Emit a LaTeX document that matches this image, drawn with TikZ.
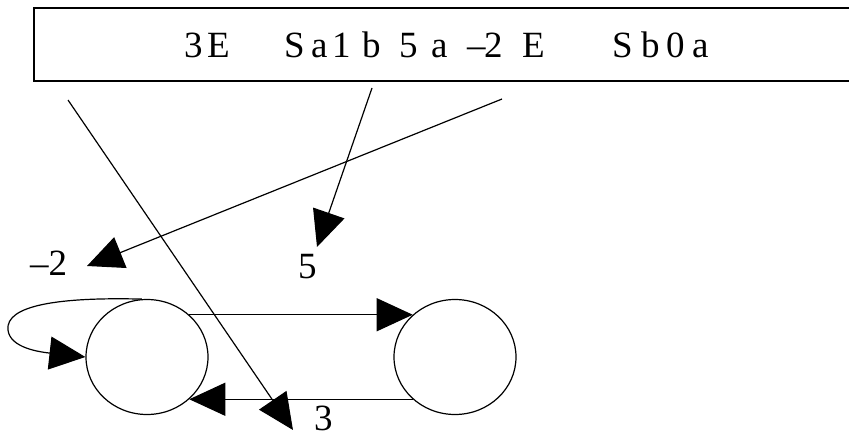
\documentclass[tikz,border=0pt]{standalone}
\usepackage{fontspec}
\setmainfont{Liberation Serif}
\usetikzlibrary{arrows.meta,shapes.geometric}
\newcommand{\tapech}[2]{\makebox[#1pt][l]{#2}}

\begin{document}
\begin{tikzpicture}[
  x=1pt,
  y=-1pt,
  line/.style={draw=black,line width=1.2pt},
  arrow/.style={line,-{Triangle[length=36pt,width=33pt]}},
  state/.style={line,ellipse,minimum width=122pt,minimum height=115pt,inner sep=0pt},
  tag/.style={font=\fontsize{37}{40}\selectfont,inner sep=0pt,anchor=base west}
]
\useasboundingbox (0,0) rectangle (849,439);

% Input tape
\node[line,line width=1.7pt,anchor=north west,minimum width=860pt,minimum height=73pt] (tape) at (33,7) {};
\node[tag] (word) at (184,57)
  {\tapech{23}{3}\tapech{77}{E}\tapech{27}{S}\tapech{21}{a}\tapech{30}{1}\tapech{37}{b}%
   \tapech{32}{5}\tapech{36}{a}\tapech{17}{--}\tapech{38}{2}\tapech{90}{E}%
   \tapech{29}{S}\tapech{25}{b}\tapech{26}{0}a};

% States
\node[state] (p) at (147,357) {};
\node[state] (q) at (455,357) {};

% Transitions
\draw[arrow] (p.45) -- (q.135);
\draw[arrow] (q.-135) -- (p.-45);
\draw[arrow] (p.95) .. controls (60,297) and (5,305) .. (8,330)
  .. controls (10,348) and (40,352) .. (p.west);

% Weights
\node[tag] (wm2) at (30,275) {--2};
\node[tag] (w5) at (298,278) {5};
\node[tag] (w3) at (314,430) {3};

% Pointers from the tape
\coordinate (a0) at (68,100);
\coordinate (a1) at (293,430);
\coordinate (b0) at (372,88);
\coordinate (b1) at (317,247);
\coordinate (c0) at (502,99);
\coordinate (c1) at (87,266);
\draw[arrow] (a0) -- (a1);
\draw[arrow] (b0) -- (b1);
\draw[arrow] (c0) -- (c1);

\end{tikzpicture}
\end{document}
